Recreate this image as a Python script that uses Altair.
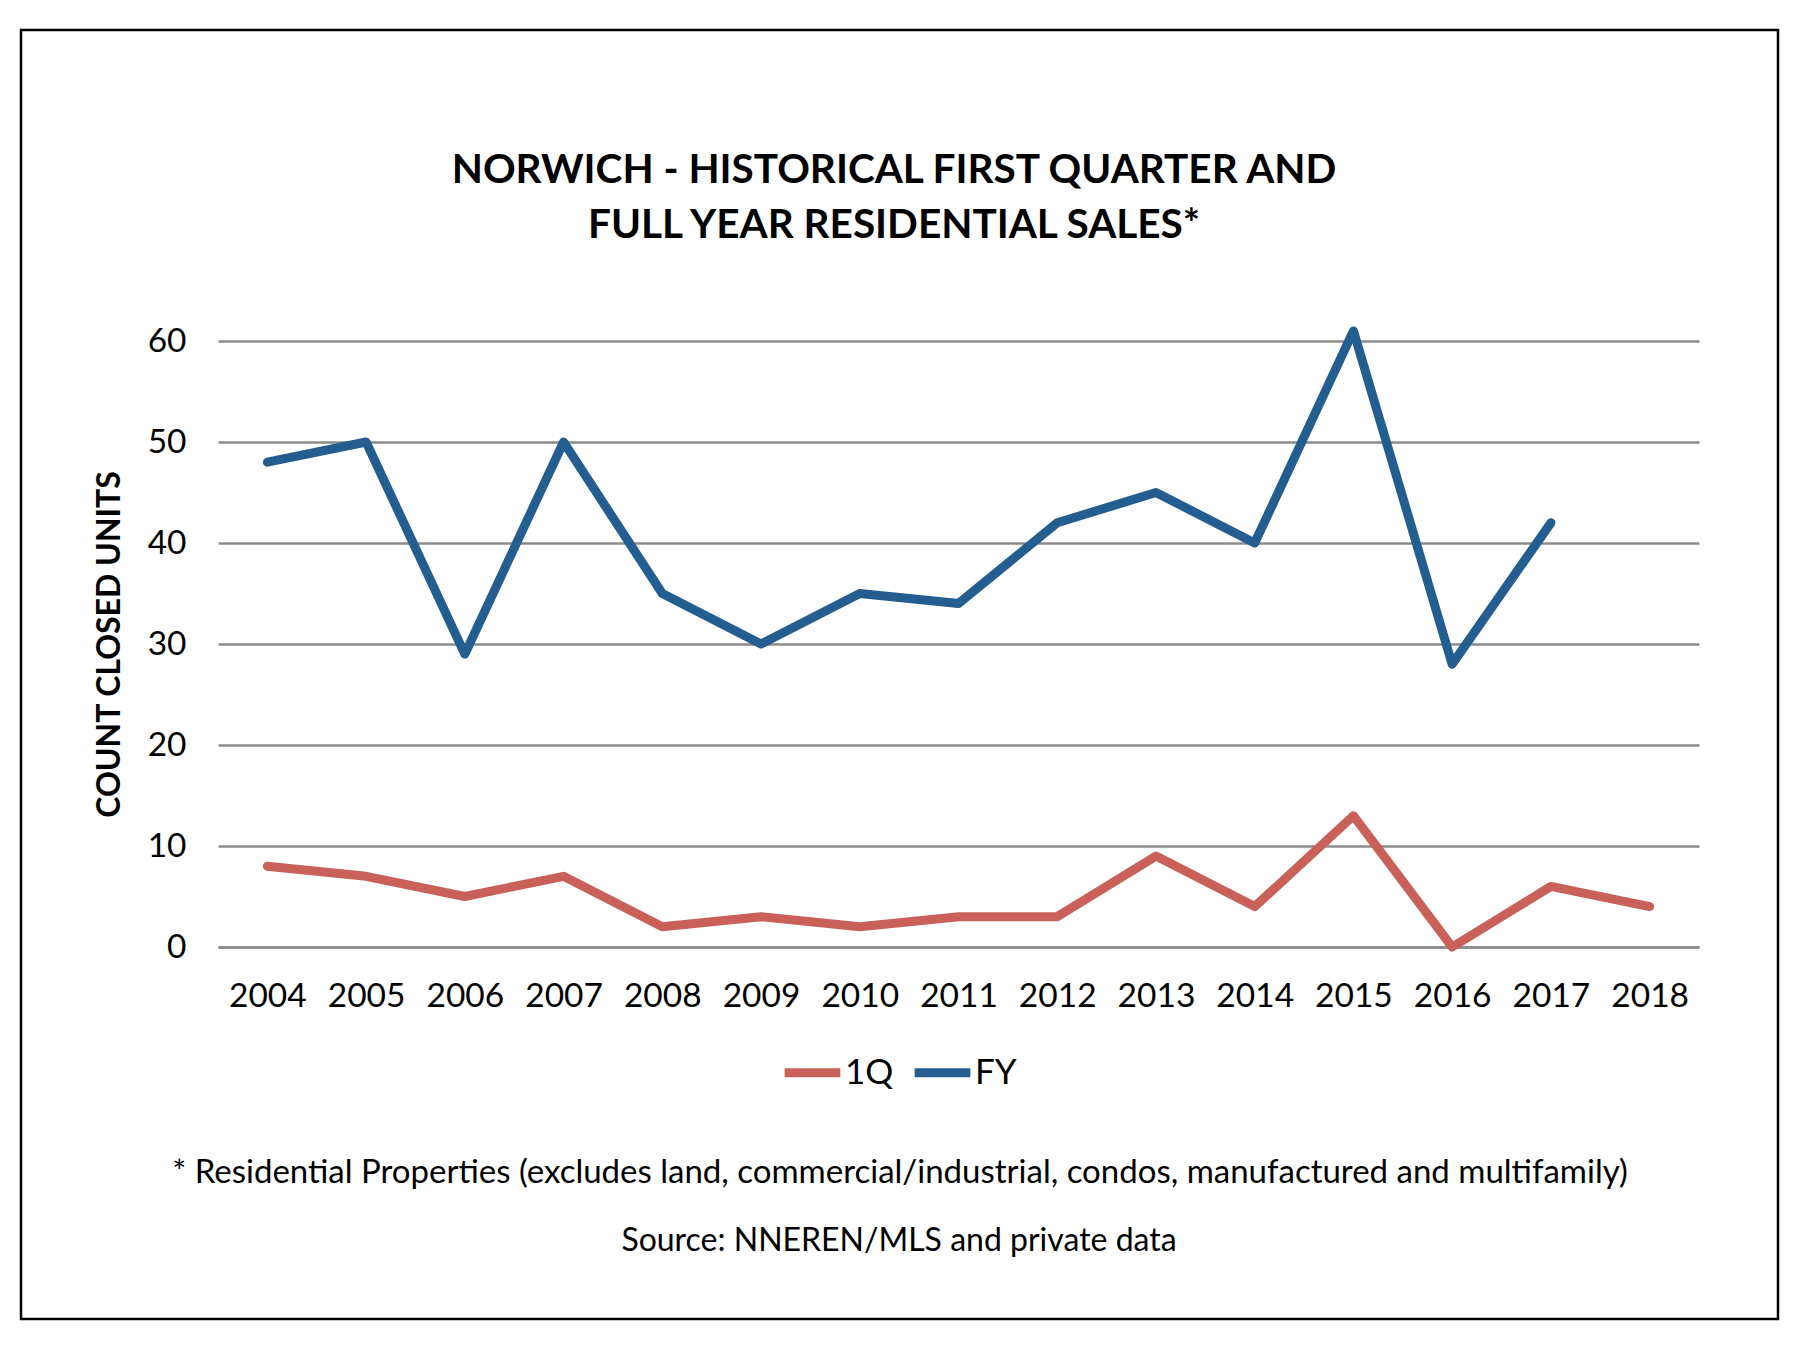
import altair as alt
import pandas as pd

years = [str(y) for y in range(2004, 2019)]
q1_values = [8, 7, 5, 7, 2, 3, 2, 3, 3, 9, 4, 13, 0, 6, 4]
fy_values = [48, 50, 29, 50, 35, 30, 35, 34, 42, 45, 40, 61, 28, 42, None]
series_names = ["1Q", "FY"]
series_colors = ["#C9605A", "#245D8F"]
y_ticks = [0, 10, 20, 30, 40, 50, 60]

title_lines = ["NORWICH - HISTORICAL FIRST QUARTER AND", "FULL YEAR RESIDENTIAL SALES*"]
y_title = "COUNT CLOSED UNITS"
footnote = "* Residential Properties (excludes land, commercial/industrial, condos, manufactured and multifamily)"
source = "Source: NNEREN/MLS and private data"

rows = []
for name, vals in zip(series_names, [q1_values, fy_values]):
    for yr, v in zip(years, vals):
        if v is not None:
            rows.append({"Year": yr, "Series": name, "Value": v})
df = pd.DataFrame(rows)

FONT = "Lato"
GRID = "#8C8C8C"

# plot area placement (pixels in the page)
L, T, R, B = 218, 341, 1699, 947
W, H = R - L, B - T

lines = alt.Chart(df).mark_line(strokeWidth=9, strokeCap="round", strokeJoin="round").encode(
    x=alt.X("Year:O", sort=years, title=None,
            axis=alt.Axis(labelAngle=0, ticks=False, grid=False, domain=True,
                          domainColor=GRID, domainWidth=2.5, labelPadding=33,
                          labelFontSize=33.5, labelFont=FONT, labelColor="#000000")),
    y=alt.Y("Value:Q", scale=alt.Scale(domain=[0, 60], nice=False), title=y_title,
            axis=alt.Axis(values=y_ticks, ticks=False, domain=False, grid=True,
                          gridColor=GRID, gridWidth=2.5, labelPadding=32,
                          labelFontSize=33.5, labelFont=FONT, labelColor="#000000",
                          titleFont=FONT, titleFontSize=32, titleFontWeight="bold",
                          titleColor="#000000", titlePadding=21)),
    color=alt.Color("Series:N", scale=alt.Scale(domain=series_names, range=series_colors),
                    legend=alt.Legend(title=None, orient="none", direction="horizontal",
                                      legendX=562, legendY=699, symbolType="stroke",
                                      symbolSize=3100, symbolStrokeWidth=9,
                                      labelFontSize=35, labelFont=FONT, labelColor="#000000",
                                      labelOffset=0, columnPadding=2)),
)

border = alt.Chart(pd.DataFrame({"d": [0]})).mark_rect(
    fill=None, stroke="#000000", strokeWidth=2.5
).encode(
    x=alt.value(21 - L), x2=alt.value(1778 - L),
    y=alt.value(30 - T), y2=alt.value(1319 - T),
)

texts = pd.DataFrame({"t": title_lines + [footnote, source], "k": [0, 1, 2, 3]})
ttl = alt.Chart(texts).mark_text(
    font=FONT, fontSize=40.5, fontWeight="bold", color="#000000", align="center", baseline="middle"
)
t1 = ttl.transform_filter("datum.k == 0").encode(text="t:N", x=alt.value(894 - L), y=alt.value(171 - T))
t2 = ttl.transform_filter("datum.k == 1").encode(text="t:N", x=alt.value(894 - L), y=alt.value(226 - T))

foot = alt.Chart(texts).mark_text(
    font=FONT, fontSize=33, color="#000000", align="center", baseline="middle"
).transform_filter("datum.k == 2").encode(
    text="t:N", x=alt.value(900 - L), y=alt.value(1173 - T))
src = alt.Chart(texts).mark_text(
    font=FONT, fontSize=32, color="#000000", align="center", baseline="middle"
).transform_filter("datum.k == 3").encode(
    text="t:N", x=alt.value(899 - L), y=alt.value(1241 - T))

chart = alt.layer(border, lines, t1, t2, foot, src).properties(
    width=W, height=H,
    padding={"left": L, "top": T, "right": 1800 - R, "bottom": 1350 - B},
    autosize=alt.AutoSizeParams(type="none"),
).configure_view(stroke=None)

chart.save("out.html", embed_options={"renderer": "svg", "actions": False})
